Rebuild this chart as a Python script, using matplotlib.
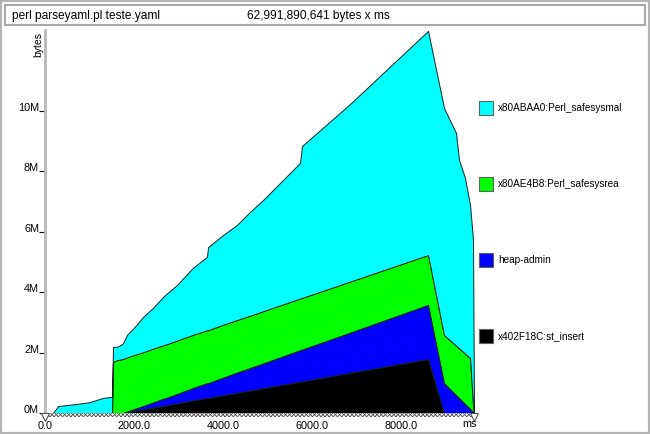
import matplotlib
matplotlib.use("Agg")
import matplotlib.pyplot as plt
from matplotlib.patches import Rectangle

plt.rcParams["font.family"] = ["Liberation Sans", "DejaVu Sans"]

title_cmd = "perl parseyaml.pl teste.yaml"
title_total = "62,991,890,641 bytes x ms"

# stacking order: bottom first
series_names = ["x402F18C:st_insert", "heap-admin",
                "x80AE4B8:Perl_safesysrea", "x80ABAA0:Perl_safesysmal"]
series_colors = ["#000000", "#0000ff", "#00ff00", "#00ffff"]

time_ms = [0, 180, 292, 719, 1011, 1303, 1461, 1506, 1528, 1618, 1730, 1753,
           1843, 2022, 2202, 2427, 2652, 2742, 2966, 3326, 3640, 3663, 3999,
           4315, 4607, 4899, 5730, 5775, 6854, 8607, 8966, 9236, 9303, 9438,
           9551, 9618, 9640]

st_insert = [0, 0, 0, 0, 0, 0, 0, 0, 0, 0, 0, 0,
             0.03, 0.08, 0.12, 0.18, 0.24, 0.26, 0.32, 0.42, 0.50, 0.50, 0.59,
             0.67, 0.75, 0.82, 1.04, 1.05, 1.33, 1.79, 0, 0, 0, 0,
             0, 0, 0]
heap_admin = [0, 0, 0, 0, 0, 0, 0, 0, 0, 0, 0, 0,
              0.02, 0.06, 0.11, 0.17, 0.23, 0.25, 0.31, 0.41, 0.49, 0.49, 0.58,
              0.67, 0.74, 0.82, 1.04, 1.05, 1.33, 1.79, 0.99, 0.59, 0.50, 0.30,
              0.14, 0.03, 0]
safesysrea = [0, 0, 0, 0, 0, 0, 0, 0, 1.69, 1.75, 1.78, 1.79,
              1.79, 1.79, 1.78, 1.78, 1.77, 1.77, 1.77, 1.76, 1.75, 1.75, 1.75,
              1.74, 1.73, 1.73, 1.71, 1.71, 1.69, 1.65, 1.59, 1.64, 1.64, 1.67,
              1.68, 0.27, 0]
safesysmal = [0, 0, 0.23, 0.30, 0.36, 0.50, 0.53, 0.53, 0.50, 0.44, 0.50, 0.53,
              0.75, 0.93, 1.17, 1.35, 1.60, 1.68, 1.84, 2.22, 2.43, 2.75, 2.97,
              3.15, 3.44, 3.68, 4.49, 5.03, 5.88, 7.42, 7.52, 7.04, 6.24, 5.81,
              5.07, 5.43, 0]

y_ticks = [0, 2, 4, 6, 8, 10]
y_tick_labels = ["0M", "2M", "4M", "6M", "8M", "10M"]
x_ticks = [0, 2000, 4000, 6000, 8000]
x_tick_labels = ["0.0", "2000.0", "4000.0", "6000.0", "8000.0"]

W, H = 650, 434
fig = plt.figure(figsize=(W / 100, H / 100), dpi=100)


def fx(px):
    return px / W


def fy(py):
    return 1 - py / H


ax = fig.add_axes([fx(45), fy(413), fx(474) - fx(45), fy(30) - fy(413)])
polys = ax.stackplot(time_ms, st_insert, heap_admin, safesysrea, safesysmal,
                     colors=series_colors)
for p in polys:
    p.set_edgecolor("#102020")
    p.set_linewidth(0.7)

ax.set_xlim(time_ms[0], time_ms[-1])
ax.set_ylim(0, 12.68)

for s in ["top", "right", "bottom"]:
    ax.spines[s].set_visible(False)
ax.spines["left"].set_color("#b8b8b8")
ax.spines["left"].set_linewidth(2)

ax.set_yticks(y_ticks)
ax.set_yticklabels(y_tick_labels)
ax.tick_params(axis="y", length=4, width=0.8, color="black", pad=0.3,
               labelsize=7.8)
for t in ax.get_yticklabels():
    t.set_verticalalignment("baseline")

ax.set_xticks(x_ticks)
ax.set_xticklabels(x_tick_labels)
ax.tick_params(axis="x", length=0, pad=5.5, labelsize=7.8)

# sample-marker strip below the baseline
plt.rcParams["hatch.linewidth"] = 0.6
strip = Rectangle((time_ms[0], -0.14), time_ms[-1] - time_ms[0], 0.14,
                  facecolor="white", edgecolor="#505050", hatch="xxxxxxxx",
                  linewidth=0, clip_on=False, zorder=3)
ax.add_patch(strip)
ax.plot([time_ms[0], time_ms[-1]], [-0.12, -0.12], linestyle="none",
        marker="v", markersize=6, markerfacecolor="white",
        markeredgecolor="#505050", markeredgewidth=0.8, clip_on=False,
        zorder=4)

fig.text(fx(462), fy(424), "ms", ha="left", va="center", fontsize=7.8)
fig.text(fx(38), fy(32), "bytes", rotation=90, ha="center", va="top",
         fontsize=7.5)

# outer frame and title box
fig.patches.append(Rectangle((0, 0), 1, 1, transform=fig.transFigure,
                             fill=False, edgecolor="#b4b4b4", linewidth=3))
fig.patches.append(Rectangle((fx(5), fy(25)), fx(645) - fx(5), fy(5) - fy(25),
                             transform=fig.transFigure, fill=False,
                             edgecolor="#a8a8a8", linewidth=1.5))
fig.text(fx(12), fy(15.5), title_cmd, ha="left", va="center", fontsize=8.6)
fig.text(fx(247), fy(15.5), title_total, ha="left", va="center", fontsize=8.6)

# legend (top to bottom: last series first)
for i, (name, color) in enumerate(zip(series_names[::-1],
                                      series_colors[::-1])):
    yc = 108 + 76 * i
    fig.patches.append(Rectangle((fx(479), fy(yc + 7)), fx(14), 14 / H,
                                 transform=fig.transFigure, facecolor=color,
                                 edgecolor="#606060", linewidth=0.8))
    fig.text(fx(498), fy(yc), name, ha="left", va="center", fontsize=7.2)

fig.savefig("out.png", dpi=100)
